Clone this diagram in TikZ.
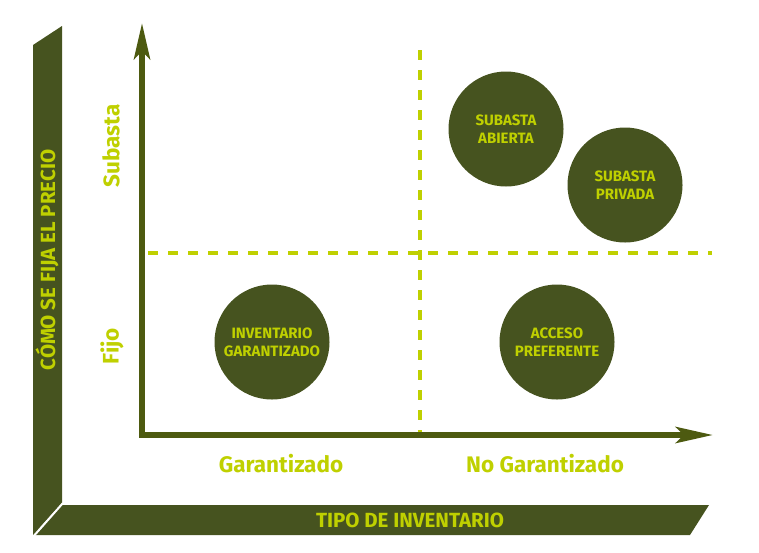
\documentclass[tikz,border=0pt]{standalone}
\usepackage{fontspec}
\newfontfamily\dinfont{Fira Sans Bold}
\usetikzlibrary{arrows.meta}
\definecolor{olive}{HTML}{46531F}
\definecolor{axisc}{HTML}{4D5A10}
\definecolor{lime}{HTML}{BFD000}
\tikzset{
  bar/.style={fill=olive,draw=none},
  axisline/.style={draw=axisc,line width=6pt,line join=miter},
  divider/.style={draw=lime,line width=4pt,dash pattern=on 10pt off 10pt},
  bubble/.style={circle,fill=olive,minimum size=115pt,inner sep=0pt,text=lime,
    align=center,font=\dinfont\fontsize{15}{18}\selectfont},
  axislabel/.style={text=lime,font=\dinfont\fontsize{22.5}{26}\selectfont,inner sep=0pt},
  barlabel/.style={text=lime,font=\dinfont\fontsize{20.5}{24}\selectfont,inner sep=0pt}
}
\begin{document}
\begin{tikzpicture}[x=1pt,y=-1pt]
\useasboundingbox (0,0) rectangle (759,552);
% frame bars
\fill[bar] (33,45) -- (62,26) -- (62,503) -- (33,535) -- cycle;
\fill[bar] (62,505) -- (709,505) -- (690,535) -- (33,535) -- cycle;
\draw[white,line width=2pt] (63,503) -- (32,538);
\node[barlabel,rotate=90] (ylab) at (47,260) {CÓMO SE FIJA EL PRECIO};
\node[barlabel] (xlab) at (410,520) {TIPO DE INVENTARIO};
% dashed dividers
\coordinate (vtop) at (420,50);
\coordinate (vbot) at (420,432);
\coordinate (hl) at (148,253);
\coordinate (hr) at (712,253);
\draw[divider] (vtop) -- (vbot);
\draw[divider] (hl) -- (hr);
% axes
\coordinate (ytip) at (142,23);
\coordinate (origin) at (142,435);
\coordinate (xtip) at (713,435);
\draw[axisline,{Stealth[length=36pt,width=16pt,inset=8pt]}-{Stealth[length=37pt,width=16pt,inset=8pt]}]
  (ytip) -- (origin) -- (xtip);
% axis labels
\node[axislabel,rotate=90] (sub) at (111,146) {Subasta};
\node[axislabel,rotate=90] (fijo) at (112,346) {Fijo};
\node[axislabel] (gar) at (281,464) {Garantizado};
\node[axislabel] (nogar) at (545,464) {No Garantizado};
% bubbles
\node[bubble] (ab) at (506,129) {SUBASTA\\ABIERTA};
\node[bubble] (pr) at (625,185) {SUBASTA\\PRIVADA};
\node[bubble] (inv) at (272,342) {INVENTARIO\\GARANTIZADO};
\node[bubble] (acc) at (557,342) {ACCESO\\PREFERENTE};
\end{tikzpicture}
\end{document}
